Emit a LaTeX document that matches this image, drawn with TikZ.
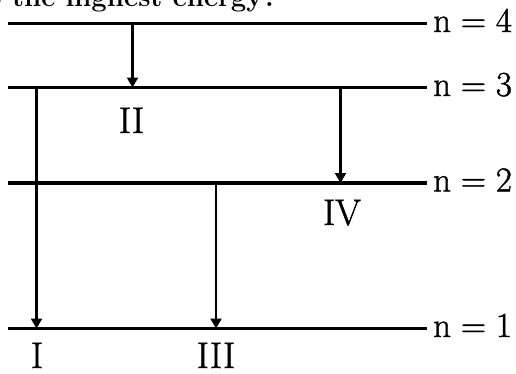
\documentclass[tikz,border=0pt]{standalone}
\usepackage{fontspec}
\newfontfamily\heavyfont{Latin Modern Roman}[FakeBold=1.3]
\usetikzlibrary{arrows.meta}
\begin{document}
\begin{tikzpicture}[x=1pt,y=-1pt,
  level/.style={line width=3.6pt},
  trans/.style={line width=2.2pt,-{Triangle[width=11pt,length=10pt]}},
  lvlabel/.style={anchor=base west,inner sep=0pt,font=\heavyfont\fontsize{35}{38}\selectfont},
  roman/.style={anchor=base,inner sep=0pt,font=\heavyfont\fontsize{37}{40}\selectfont},
  header/.style={anchor=base west,inner sep=0pt,font=\fontsize{27.5}{30}\selectfont\bfseries}]
\useasboundingbox (0,0) rectangle (516,373);
\begin{scope}
\clip (0,0) rectangle (516,373);
\node[header] (head) at (-26,6) {to the highest energy?};
\end{scope}
% level end points
\coordinate (L4w) at (8,23.5);  \coordinate (L4e) at (427,23.5);
\coordinate (L3w) at (8,87.5);  \coordinate (L3e) at (427,87.5);
\coordinate (L2w) at (8,183);   \coordinate (L2e) at (427,183);
\coordinate (L1w) at (8,328.5); \coordinate (L1e) at (427,328.5);
\draw[level] (L4w) -- (L4e);
\draw[level] (L3w) -- (L3e);
\draw[level] (L2w) -- (L2e);
\draw[level] (L1w) -- (L1e);
\node[lvlabel] (n4) at (433,32) {n\hspace{.28em}=\hspace{.28em}4};
\node[lvlabel] (n3) at (433,96) {n\hspace{.28em}=\hspace{.28em}3};
\node[lvlabel] (n2) at (433,191.5) {n\hspace{.28em}=\hspace{.28em}2};
\node[lvlabel] (n1) at (433,337) {n\hspace{.28em}=\hspace{.28em}1};
% transition end points
\coordinate (IIs) at (132.5,23.5);  \coordinate (IIe) at (132.5,87.5);
\coordinate (Is) at (36.5,87.5);    \coordinate (Ie) at (36.5,328.5);
\coordinate (IVs) at (340.5,87.5);  \coordinate (IVe) at (340.5,183);
\coordinate (IIIs) at (216,183);    \coordinate (IIIe) at (216,328.5);
\draw[trans] (IIs) -- (IIe);
\draw[trans] (Is) -- (Ie);
\draw[trans] (IVs) -- (IVe);
\draw[trans] (IIIs) -- (IIIe);
\node[roman] (tII) at (131.5,133) {II};
\node[roman] (tIV) at (342,225) {IV};
\node[roman] (tI) at (37,368) {I};
\node[roman] (tIII) at (216,368) {III};
\end{tikzpicture}
\end{document}
